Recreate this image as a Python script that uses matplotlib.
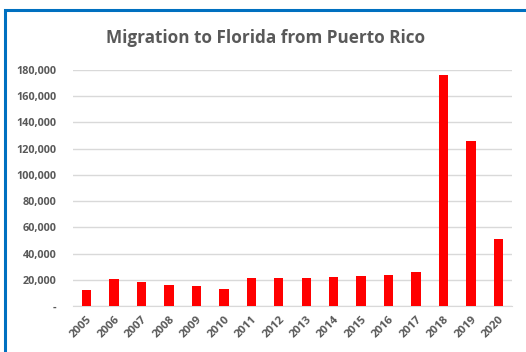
import matplotlib

matplotlib.use("Agg")
import matplotlib.pyplot as plt
from matplotlib.patches import Rectangle
from matplotlib.ticker import FuncFormatter

# Data
years = ["2005", "2006", "2007", "2008", "2009", "2010", "2011", "2012",
         "2013", "2014", "2015", "2016", "2017", "2018", "2019", "2020"]
migrants = [12000, 20500, 18500, 16000, 15000, 13000, 21000, 21000,
            21000, 22000, 23000, 24000, 26000, 176000, 126000, 51000]
y_ticks = [0, 20000, 40000, 60000, 80000, 100000, 120000, 140000, 160000, 180000]

plt.rcParams["font.family"] = ["Open Sans", "DejaVu Sans"]
text_color = "#595959"

fig = plt.figure(figsize=(5.26, 3.52), dpi=100)
W, H = 526, 352

# blue frame round the chart (open on right and bottom, like the crop)
fig.patches.append(Rectangle((4.5 / W, -0.05), 1.1, (H - 10) / H + 0.05,
                             transform=fig.transFigure, fill=False,
                             edgecolor="#0070C0", linewidth=2.2))

ax = fig.add_axes([73 / W, 1 - 306 / H, (512 - 73) / W, (306 - 70) / H])
x = range(len(years))
ax.bar(x, migrants, width=0.34, color="#FF0000", zorder=3)

ax.set_xlim(-0.5, len(years) - 0.5)
ax.set_ylim(0, 180000)
ax.set_yticks(y_ticks)
ax.yaxis.set_major_formatter(FuncFormatter(lambda v, p: "-" if v == 0 else f"{int(v):,}"))
ax.set_xticks(list(x))
ax.set_xticklabels(years, rotation=45, ha="right", rotation_mode="anchor")

ax.grid(axis="y", color="#d9d9d9", linewidth=1, zorder=0)
for s in ["top", "right", "left"]:
    ax.spines[s].set_visible(False)
ax.spines["bottom"].set_color("#d9d9d9")
ax.tick_params(axis="both", length=0, colors=text_color)
ax.tick_params(axis="y", pad=12, labelsize=7.8)
ax.tick_params(axis="x", pad=6, labelsize=8.2)
for lbl in ax.get_xticklabels() + ax.get_yticklabels():
    lbl.set_fontweight("bold")

fig.text(0.505, 1 - 38 / H, "Migration to Florida from Puerto Rico", ha="center",
         va="center", fontsize=12.3, fontweight="bold", color=text_color)

fig.savefig("out.png", dpi=100)
